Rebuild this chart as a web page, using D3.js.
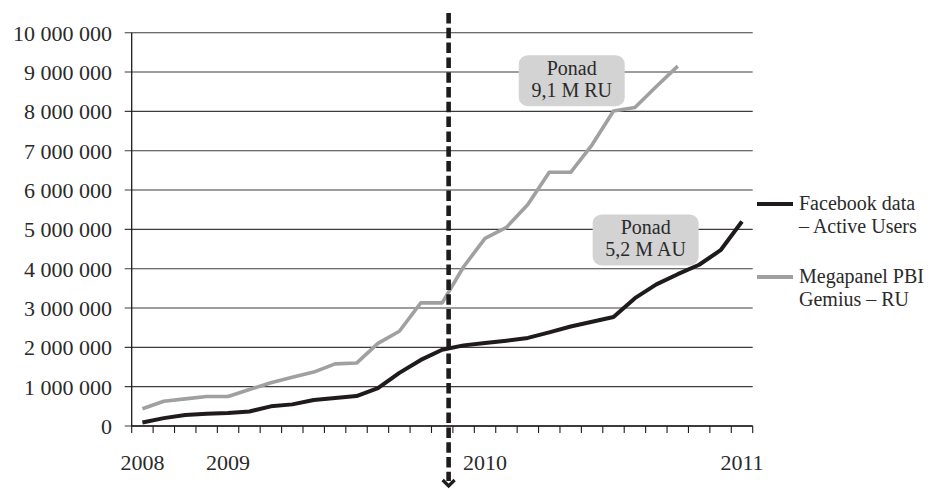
<!DOCTYPE html>
<html>
<head>
<meta charset="utf-8">
<script src="https://cdn.jsdelivr.net/npm/d3@7"></script>
<style>
  html, body { margin: 0; padding: 0; background: #fff; }
  svg { display: block; }
  text { font-family: "Liberation Serif", "Times New Roman", serif; fill: #2a2a2a; }
</style>
</head>
<body>
<svg id="chart" width="937" height="489"></svg>
<script>
// Monthly categories, September 2008 – January 2011
const months = [
  "2008-09","2008-10","2008-11","2008-12",
  "2009-01","2009-02","2009-03","2009-04","2009-05","2009-06",
  "2009-07","2009-08","2009-09","2009-10","2009-11","2009-12",
  "2010-01","2010-02","2010-03","2010-04","2010-05","2010-06",
  "2010-07","2010-08","2010-09","2010-10","2010-11","2010-12",
  "2011-01"
];

// Facebook data – Active Users
const facebookActiveUsers = [
  90000, 200000, 280000, 310000, 330000, 370000, 500000, 550000, 660000,
  710000, 760000, 960000, 1350000, 1680000, 1940000, 2050000, 2110000,
  2170000, 2240000, 2380000, 2530000, 2650000, 2770000, 3250000, 3600000,
  3860000, 4100000, 4470000, 5200000
];

// Megapanel PBI Gemius – RU (ends October 2010)
const megapanelRU = [
  440000, 630000, 690000, 750000, 750000, 930000, 1100000, 1240000, 1370000,
  1580000, 1600000, 2100000, 2410000, 3130000, 3130000, 4050000, 4770000,
  5050000, 5630000, 6450000, 6450000, 7150000, 8010000, 8100000, 8630000,
  9150000
];

// Year labels on the category axis
const yearLabels = ["2008", "2009", "2010", "2011"];
const yearLabelMonths = ["2008-09", "2009-01", "2010-01", "2011-01"];

// Value axis ticks
const yTicks = [0, 1000000, 2000000, 3000000, 4000000, 5000000,
                6000000, 7000000, 8000000, 9000000, 10000000];

// Legend entries
const seriesNames = [
  ["Facebook data", "– Active Users"],
  ["Megapanel PBI", "Gemius – RU"]
];

// Callout texts: [first line, second line], anchored on month position and value
const callouts = [
  { lines: ["Ponad", "9,1 M RU"], month: 20.05, value: 8780000 },
  { lines: ["Ponad", "5,2 M AU"], month: 23.5, value: 4730000 }
];

// Vertical dashed marker (position in month units)
const markerMonth = 14.3;

const svg = d3.select("#chart");
const plot = { left: 131.7, right: 752.7, top: 32.7, bottom: 426 };

const x = d3.scaleLinear()
  .domain([-0.5, months.length - 0.5])
  .range([plot.left, plot.right]);
const y = d3.scaleLinear()
  .domain([0, 10000000])
  .range([plot.bottom, plot.top]);

const fmt = d3.formatLocale({ decimal: ",", thousands: " ", grouping: [3], currency: ["", ""] }).format(",d");

const FS = 22;       // axis labels
const FS_NOTE = 20;  // callouts and legend
const LINE_GAP = 22.5;
const INK = "#1f1b1c";
const GREY = "#a0a0a0";
const GRID = "#3c3c3c";

// Horizontal gridlines
svg.append("g")
  .selectAll("line")
  .data(yTicks)
  .join("line")
  .attr("x1", plot.left - 7)
  .attr("x2", plot.right)
  .attr("y1", d => y(d))
  .attr("y2", d => y(d))
  .attr("stroke", GRID)
  .attr("stroke-width", 1.1);

// Value axis labels
svg.append("g")
  .selectAll("text")
  .data(yTicks)
  .join("text")
  .attr("x", 112)
  .attr("y", d => y(d))
  .attr("dy", "0.36em")
  .attr("text-anchor", "end")
  .attr("font-size", FS)
  .text(d => fmt(d));

// Vertical axis line
svg.append("line")
  .attr("x1", plot.left).attr("x2", plot.left)
  .attr("y1", plot.top).attr("y2", plot.bottom)
  .attr("stroke", INK).attr("stroke-width", 1.3);

// Category axis with ticks between months
const tickPos = d3.range(months.length + 1).map(i => i - 0.5);
svg.append("line")
  .attr("x1", plot.left).attr("x2", plot.right)
  .attr("y1", plot.bottom).attr("y2", plot.bottom)
  .attr("stroke", INK).attr("stroke-width", 1.3);
svg.append("g")
  .selectAll("line")
  .data(tickPos)
  .join("line")
  .attr("x1", d => x(d)).attr("x2", d => x(d))
  .attr("y1", plot.bottom).attr("y2", plot.bottom + 7)
  .attr("stroke", INK).attr("stroke-width", 1.1);

svg.append("g")
  .selectAll("text")
  .data(yearLabels)
  .join("text")
  .attr("x", (d, i) => x(months.indexOf(yearLabelMonths[i])))
  .attr("y", 470)
  .attr("text-anchor", "middle")
  .attr("font-size", FS)
  .text(d => d);

// Series lines
const line = d3.line()
  .x((d, i) => x(i))
  .y(d => y(d))
  .curve(d3.curveLinear);

svg.append("path")
  .datum(megapanelRU)
  .attr("d", line)
  .attr("fill", "none")
  .attr("stroke", GREY)
  .attr("stroke-width", 3.6)
  .attr("stroke-linejoin", "round");

svg.append("path")
  .datum(facebookActiveUsers)
  .attr("d", line)
  .attr("fill", "none")
  .attr("stroke", INK)
  .attr("stroke-width", 4)
  .attr("stroke-linejoin", "round");

// Callout boxes
const boxW = 106, boxH = 51;
callouts.forEach(c => {
  const cx = x(c.month), cy = y(c.value);
  const g = svg.append("g");
  g.append("rect")
    .attr("x", cx - boxW / 2).attr("y", cy - boxH / 2)
    .attr("width", boxW).attr("height", boxH)
    .attr("rx", 9).attr("ry", 9)
    .attr("fill", "#d3d3d3");
  g.selectAll("text")
    .data(c.lines)
    .join("text")
    .attr("x", cx)
    .attr("y", (d, i) => cy - 6 + i * LINE_GAP)
    .attr("text-anchor", "middle")
    .attr("font-size", FS_NOTE)
    .text(d => d);
});

// Dashed vertical marker with arrowhead
const mx = x(markerMonth);
svg.append("line")
  .attr("x1", mx).attr("x2", mx)
  .attr("y1", 13).attr("y2", 481)
  .attr("stroke", INK)
  .attr("stroke-width", 4.6)
  .attr("stroke-dasharray", "10.5,4.3");
svg.append("path")
  .attr("d", `M${mx - 6},${480} L${mx},${486} L${mx + 6},${480}`)
  .attr("fill", "none")
  .attr("stroke", INK)
  .attr("stroke-width", 3.2);

// Legend
const legendY = [204, 277];
const legendColors = [INK, GREY];
seriesNames.forEach((names, i) => {
  svg.append("line")
    .attr("x1", 757).attr("x2", 793)
    .attr("y1", legendY[i]).attr("y2", legendY[i])
    .attr("stroke", legendColors[i])
    .attr("stroke-width", 4);
  svg.append("g")
    .selectAll("text")
    .data(names)
    .join("text")
    .attr("x", 799)
    .attr("y", (d, j) => legendY[i] + 6 + j * LINE_GAP)
    .attr("font-size", FS_NOTE)
    .text(d => d);
});
</script>
</body>
</html>
